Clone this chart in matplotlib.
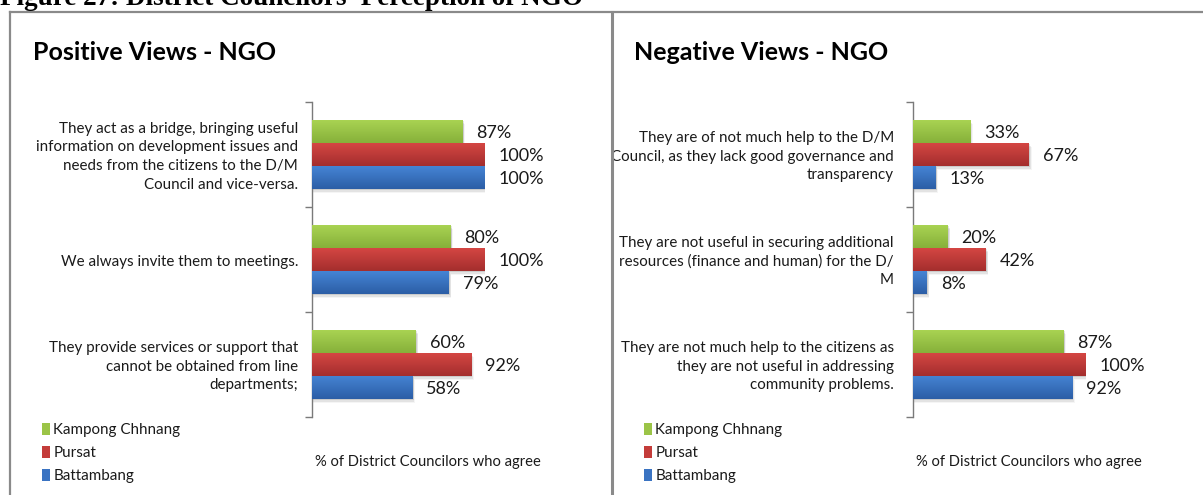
import numpy as np
import matplotlib
matplotlib.use("Agg")
import matplotlib.pyplot as plt
from matplotlib.patches import Rectangle
from matplotlib.lines import Line2D
from matplotlib.colors import LinearSegmentedColormap

# ---- data -------------------------------------------------------------
series = ["Kampong Chhnang", "Pursat", "Battambang"]

positive_items = [
    "They act as a bridge, bringing useful\ninformation on development issues and\nneeds from the citizens to the D/M\nCouncil and vice-versa.",
    "We always invite them to meetings.",
    "They provide services or support that\ncannot be obtained from line\ndepartments;",
]
positive_kampong = [87, 80, 60]
positive_pursat = [100, 100, 92]
positive_battambang = [100, 79, 58]

negative_items = [
    "They are of not much help to the D/M\nCouncil, as they lack good governance and\ntransparency",
    "They are not useful in securing additional\nresources (finance and human) for the D/\nM",
    "They are not much help to the citizens as\nthey are not useful in addressing\ncommunity problems.",
]
negative_kampong = [33, 20, 87]
negative_pursat = [67, 42, 100]
negative_battambang = [13, 8, 92]

x_label = "% of District Councilors who agree"
figure_title = "Figure 27: District Councilors' Perception of NGO"

# ---- styling ----------------------------------------------------------
W, H = 1203, 495
FONT = "Lato"
bar_colors = ["#9bc447", "#c43c3a", "#3a73c2"]
bar_grad = [("#a9d352", "#86b03a"), ("#d44643", "#a42e2d"), ("#4584d4", "#2c5ea6")]
frame_color = "#8a8a8a"
text_color = "#1a1a1a"

fig = plt.figure(figsize=(W / 100, H / 100), dpi=100)


def fx(px):
    return px / W


def fy(py):
    return 1 - py / H


# figure caption (partly cut by the top edge)
fig.text(fx(0), fy(5), figure_title, fontsize=19.5, fontweight="bold",
         family="Liberation Serif", ha="left", va="baseline")

# panel frames
fig.add_artist(Line2D([fx(10), fx(W)], [fy(12), fy(12)], color=frame_color, lw=1.6))
fig.add_artist(Line2D([fx(10), fx(10)], [fy(12), fy(H)], color=frame_color, lw=1.6))
fig.add_artist(Line2D([fx(612), fx(612)], [fy(12), fy(H)], color=frame_color, lw=2.2))


def gradient_bar(ax, patch, top, bottom):
    cmap = LinearSegmentedColormap.from_list("g", [bottom, top])
    x0, y0 = patch.get_x(), patch.get_y()
    w, h = patch.get_width(), patch.get_height()
    # soft drop shadow
    for k, a in enumerate([0.10, 0.07, 0.04]):
        sh = Rectangle((x0 + 0.3, y0 - 0.012 * (k + 1)), w + 0.4 * (k + 1), h,
                       facecolor="black", alpha=a, edgecolor="none", zorder=1)
        ax.add_patch(sh)
    grad = np.linspace(0, 1, 64).reshape(-1, 1)
    im = ax.imshow(grad, cmap=cmap, origin="lower", aspect="auto",
                   extent=(x0, x0 + w, y0, y0 + h), zorder=3)
    im.set_clip_path(patch)


def panel(ax_left_px, title, title_x, items, vals, legend_x, label_gap):
    top, bottom = 102, 417
    ax = fig.add_axes([fx(ax_left_px), fy(bottom), fx(173), (bottom - top) / H])
    n = len(items)
    centers = np.arange(n)[::-1] + 0.5
    bh = 23 / 105
    offsets = [bh, 0, -bh]
    for s, (v, off) in enumerate(zip(vals, offsets)):
        bars = ax.barh(centers + off, v, height=bh, color=bar_colors[s],
                       label=series[s], zorder=2)
        for p, val in zip(bars, v):
            gradient_bar(ax, p, *bar_grad[s])
            ax.text(val + 8, p.get_y() + p.get_height() / 2 - 0.01, f"{val}%",
                    fontsize=13, family=FONT, ha="left", va="center",
                    color=text_color, clip_on=False)
    ax.set_xlim(0, 100)
    ax.set_ylim(0, n)
    ax.set_yticks(np.arange(n + 1))
    ax.set_yticklabels([])
    ax.set_xticks([])
    for sp in ["top", "right", "bottom"]:
        ax.spines[sp].set_visible(False)
    ax.spines["left"].set_color("#7a7a7a")
    ax.spines["left"].set_linewidth(1.0)
    ax.tick_params(axis="y", direction="out", length=5, width=1.0, color="#7a7a7a")
    ax.patch.set_alpha(0)

    for c, lab in zip(centers, items):
        ax.text(-label_gap, c - 0.02, lab, fontsize=10.9, family=FONT, ha="right",
                va="center", linespacing=1.42, color=text_color, clip_on=False)

    fig.text(fx(title_x), fy(52), title, fontsize=18, fontweight="bold",
             family=FONT, ha="left", va="center")

    fig.text(fx(ax_left_px + 116), fy(462), x_label, fontsize=10.6, family=FONT,
             ha="center", va="center", color=text_color)

    handles = [Rectangle((0, 0), 1, 1, facecolor=c) for c in bar_colors]
    leg = fig.legend(handles, series, loc="upper left",
                     bbox_to_anchor=(fx(legend_x), fy(423)),
                     frameon=False, prop={"family": FONT, "size": 10.9},
                     handlelength=0.5, handleheight=0.85, handletextpad=0.25,
                     labelspacing=0.56, borderpad=0, borderaxespad=0)
    for t in leg.get_texts():
        t.set_color(text_color)
    return ax


panel(312, "Positive Views - NGO", 33,
      positive_items, [positive_kampong, positive_pursat, positive_battambang],
      42, 8)
panel(913, "Negative Views - NGO", 634,
      negative_items, [negative_kampong, negative_pursat, negative_battambang],
      644, 11)

fig.savefig("out.png", dpi=100)
